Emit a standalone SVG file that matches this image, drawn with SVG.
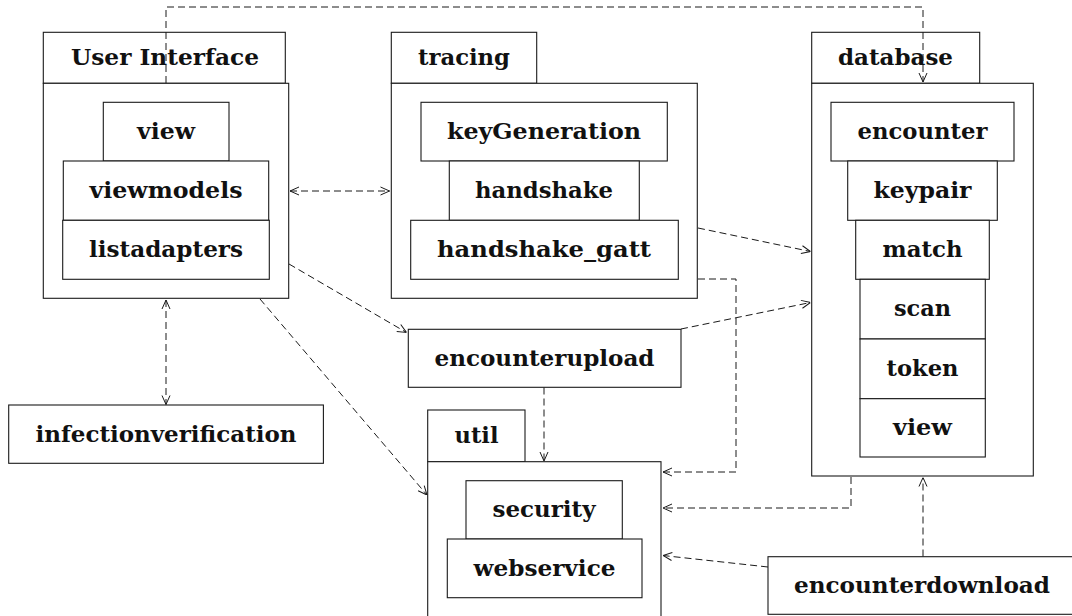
<svg xmlns="http://www.w3.org/2000/svg" width="1072" height="616" viewBox="0 0 1072 616">
<style>
rect{fill:#fff;stroke:#1a1a1a;stroke-width:1.1}
text{font-family:"DejaVu Serif","Liberation Serif",serif;font-weight:bold;font-size:23px;fill:#111;text-anchor:middle}
.c path{fill:none;stroke:#1a1a1a;stroke-width:1;stroke-dasharray:7,4}
</style>
<defs>
<marker id="a" viewBox="0 0 10 10" refX="10" refY="5" markerWidth="10" markerHeight="10" markerUnits="userSpaceOnUse" orient="auto-start-reverse">
<path d="M1,1 L10,5 L1,9" fill="none" stroke="#1a1a1a" stroke-width="1"/>
</marker>
</defs>
<rect x="0" y="0" width="1072" height="616" style="stroke:none"/>

<g id="ui">
<rect x="43.3" y="32.3" width="242" height="51"/>
<rect x="43.3" y="83.3" width="245.4" height="215"/>
<text x="165" y="64.5" textLength="188" lengthAdjust="spacingAndGlyphs">User Interface</text>
<rect x="103.3" y="102.3" width="125.7" height="58.7"/>
<text x="166" y="138.5" textLength="58" lengthAdjust="spacingAndGlyphs">view</text>
<rect x="63.3" y="161" width="205.4" height="59.3"/>
<text x="166" y="197.5" textLength="153" lengthAdjust="spacingAndGlyphs">viewmodels</text>
<rect x="62.7" y="220.3" width="206.6" height="59"/>
<text x="166" y="256.5" textLength="154" lengthAdjust="spacingAndGlyphs">listadapters</text>
</g>

<g id="tracing">
<rect x="391.3" y="32.3" width="145.4" height="51"/>
<rect x="391.3" y="83.3" width="306" height="215"/>
<text x="464" y="64.5" textLength="92" lengthAdjust="spacingAndGlyphs">tracing</text>
<rect x="421" y="102.3" width="246.3" height="58.7"/>
<text x="544" y="138.5" textLength="194" lengthAdjust="spacingAndGlyphs">keyGeneration</text>
<rect x="449.3" y="161" width="190" height="59.3"/>
<text x="544" y="197.5" textLength="138" lengthAdjust="spacingAndGlyphs">handshake</text>
<rect x="410.7" y="220.3" width="267.6" height="59"/>
<text x="544" y="256.5" textLength="214" lengthAdjust="spacingAndGlyphs">handshake_gatt</text>
</g>

<g id="database">
<rect x="811.7" y="32.3" width="168" height="51"/>
<rect x="811.7" y="83.3" width="221.6" height="392.7"/>
<text x="895.5" y="64.5" textLength="115" lengthAdjust="spacingAndGlyphs">database</text>
<rect x="831" y="102.3" width="183" height="58.7"/>
<text x="922.5" y="138.5" textLength="130" lengthAdjust="spacingAndGlyphs">encounter</text>
<rect x="847.7" y="161" width="149.6" height="59.3"/>
<text x="922.5" y="197.5" textLength="98" lengthAdjust="spacingAndGlyphs">keypair</text>
<rect x="855.7" y="220.3" width="133.6" height="59"/>
<text x="922.5" y="256.5" textLength="80" lengthAdjust="spacingAndGlyphs">match</text>
<rect x="860" y="279.3" width="125.3" height="59.7"/>
<text x="922.5" y="316" textLength="57" lengthAdjust="spacingAndGlyphs">scan</text>
<rect x="860" y="339" width="125.3" height="59.7"/>
<text x="922.5" y="375.5" textLength="72" lengthAdjust="spacingAndGlyphs">token</text>
<rect x="860" y="398.7" width="125.3" height="58.3"/>
<text x="922.5" y="434.5" textLength="59" lengthAdjust="spacingAndGlyphs">view</text>
</g>

<g id="encounterupload">
<rect x="408.3" y="329.3" width="272.7" height="58"/>
<text x="544.5" y="365.5" textLength="220" lengthAdjust="spacingAndGlyphs">encounterupload</text>
</g>

<g id="infectionverification">
<rect x="8.7" y="405" width="314.7" height="58.3"/>
<text x="166" y="441.5" textLength="261" lengthAdjust="spacingAndGlyphs">infectionverification</text>
</g>

<g id="util">
<rect x="427.7" y="410" width="97.3" height="51.7"/>
<rect x="427.7" y="461.7" width="233.3" height="170"/>
<text x="476.5" y="443" textLength="44" lengthAdjust="spacingAndGlyphs">util</text>
<rect x="466" y="480.7" width="156.3" height="58.3"/>
<text x="544" y="516.5" textLength="103" lengthAdjust="spacingAndGlyphs">security</text>
<rect x="447.3" y="539" width="194.7" height="58.7"/>
<text x="544.5" y="575.5" textLength="142" lengthAdjust="spacingAndGlyphs">webservice</text>
</g>

<g id="encounterdownload">
<rect x="768" y="556.7" width="310" height="57.6"/>
<text x="922" y="592.5" textLength="256" lengthAdjust="spacingAndGlyphs">encounterdownload</text>
</g>

<g id="connectors" class="c">
<path d="M166,83 V7 H923 V82" marker-end="url(#a)"/>
<path d="M290,191 H389.5" marker-start="url(#a)" marker-end="url(#a)"/>
<path d="M289,264 L406.5,332.5" marker-end="url(#a)"/>
<path d="M260,299 L427,495" marker-end="url(#a)"/>
<path d="M166,300 V404.5" marker-start="url(#a)" marker-end="url(#a)"/>
<path d="M698,228 L810.5,251.5" marker-end="url(#a)"/>
<path d="M698,279 H736 V472 H663" marker-end="url(#a)"/>
<path d="M681,329 L810.5,302.5" marker-end="url(#a)"/>
<path d="M544,387.5 V461" marker-end="url(#a)"/>
<path d="M851,477 V508 H663" marker-end="url(#a)"/>
<path d="M768,567 L663,555.5" marker-end="url(#a)"/>
<path d="M923,556.5 V477.5" marker-end="url(#a)"/>
</g>
</svg>
